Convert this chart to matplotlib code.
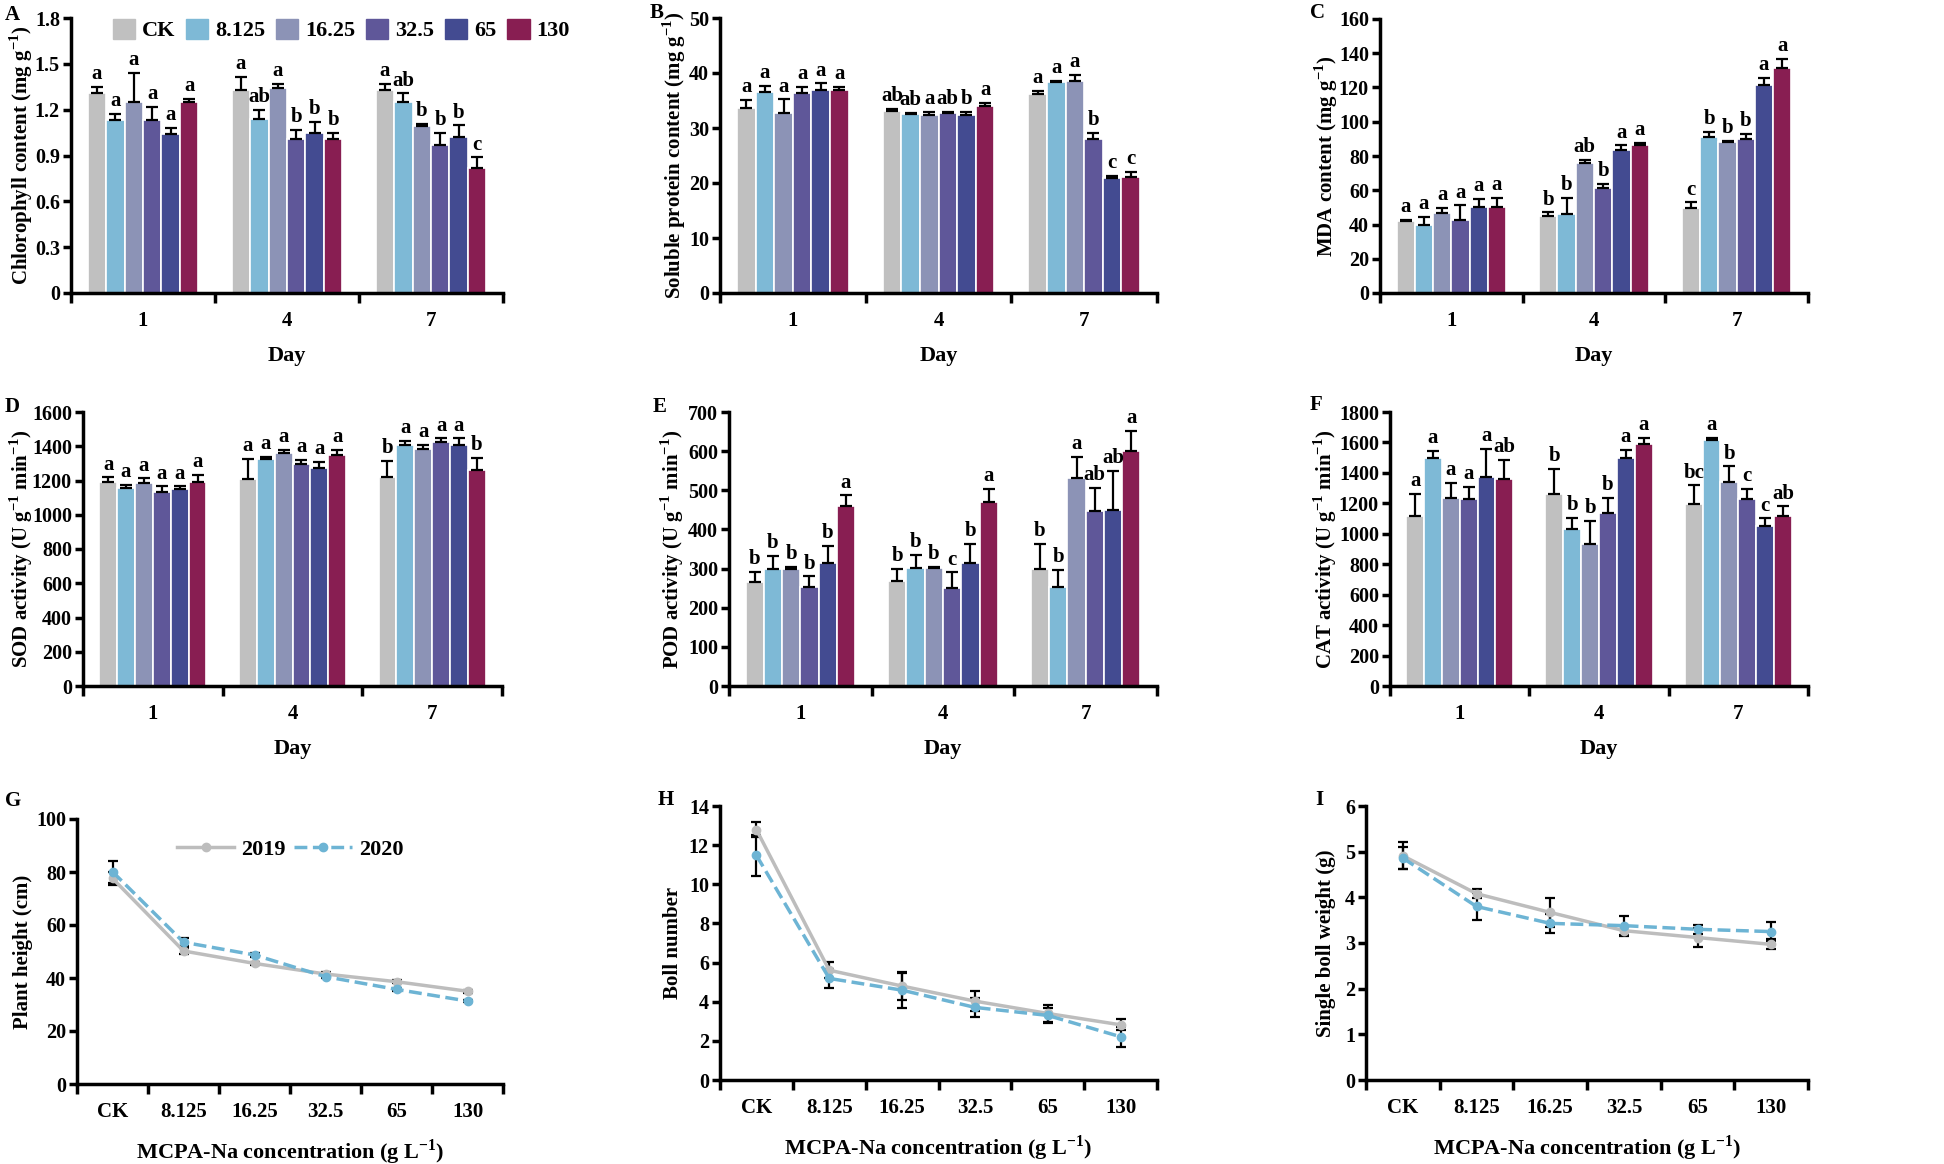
import numpy as np
import matplotlib.pyplot as plt
from matplotlib.patches import Patch

plt.rcParams["font.family"] = ["Liberation Serif", "DejaVu Serif"]
plt.rcParams["font.weight"] = "bold"
plt.rcParams["mathtext.fontset"] = "custom"
plt.rcParams["mathtext.rm"] = "Liberation Serif:bold"

DAYS = ["1", "4", "7"]
TREATMENTS = ["CK", "8.125", "16.25", "32.5", "65", "130"]
COLORS = ["#C0C0C0", "#7EB9D6", "#8C93B6", "#5F5799", "#434B91", "#881E52"]

# rows = day 1, 4, 7 ; columns = CK ... 130
chl_mean = [[1.31, 1.13, 1.25, 1.13, 1.04, 1.25],
            [1.33, 1.14, 1.34, 1.01, 1.05, 1.01],
            [1.33, 1.25, 1.09, 0.97, 1.02, 0.82]]
chl_err = [[0.04, 0.04, 0.19, 0.09, 0.04, 0.02],
           [0.085, 0.057, 0.027, 0.057, 0.072, 0.04],
           [0.037, 0.057, 0.017, 0.08, 0.077, 0.068]]
chl_letters = [["a", "a", "a", "a", "a", "a"],
               ["a", "ab", "a", "b", "b", "b"],
               ["a", "ab", "b", "b", "b", "c"]]

prot_mean = [[33.7, 36.5, 32.8, 36.4, 36.9, 36.9],
             [33.1, 32.6, 32.3, 32.7, 32.4, 34.0],
             [36.1, 38.3, 38.6, 28.0, 21.0, 21.1]]
prot_err = [[1.4, 1.2, 2.4, 1.1, 1.2, 0.6],
            [0.4, 0.15, 0.7, 0.25, 0.5, 0.6],
            [0.7, 0.3, 1.1, 1.1, 0.3, 0.9]]
prot_letters = [["a", "a", "a", "a", "a", "a"],
                ["ab", "ab", "a", "ab", "b", "a"],
                ["a", "a", "a", "b", "c", "c"]]

mda_mean = [[41.8, 39.6, 47.0, 42.7, 50.0, 50.5],
            [45.1, 46.0, 76.1, 61.5, 83.3, 86.2],
            [49.6, 91.3, 88.2, 90.0, 121.2, 131.1]]
mda_err = [[0.8, 4.9, 2.5, 8.4, 4.9, 4.9],
           [2.0, 9.4, 1.6, 2.1, 2.9, 1.6],
           [3.3, 2.7, 0.6, 3.1, 4.5, 5.5]]
mda_letters = [["a", "a", "a", "a", "a", "a"],
               ["b", "b", "ab", "b", "a", "a"],
               ["c", "b", "b", "b", "a", "a"]]

sod_mean = [[1193, 1154, 1183, 1132, 1148, 1191],
            [1210, 1323, 1358, 1294, 1271, 1349],
            [1220, 1405, 1386, 1423, 1405, 1259]]
sod_err = [[25, 20, 29, 33, 17, 41],
           [117, 16, 20, 27, 39, 31],
           [94, 27, 21, 23, 41, 74]]
sod_letters = [["a", "a", "a", "a", "a", "a"],
               ["a", "a", "a", "a", "a", "a"],
               ["b", "a", "a", "a", "a", "b"]]

pod_mean = [[265, 299, 300, 252, 315, 461],
            [268, 302, 301, 251, 315, 469],
            [300, 253, 532, 448, 449, 601]]
pod_err = [[27, 34, 4, 28, 43, 26],
           [32, 33, 3, 39, 48, 35],
           [63, 44, 54, 58, 101, 50]]
pod_letters = [["b", "b", "b", "b", "b", "a"],
               ["b", "b", "b", "c", "b", "a"],
               ["b", "b", "a", "ab", "ab", "a"]]

cat_mean = [[1114, 1495, 1232, 1226, 1370, 1362],
            [1263, 1033, 932, 1138, 1497, 1592],
            [1195, 1618, 1337, 1226, 1052, 1120]]
cat_err = [[147, 48, 101, 83, 187, 125],
           [162, 72, 153, 96, 53, 39],
           [123, 11, 106, 68, 49, 60]]
cat_letters = [["a", "a", "a", "a", "a", "ab"],
               ["b", "b", "b", "b", "a", "a"],
               ["bc", "a", "b", "c", "c", "ab"]]

YEARS = ["2019", "2020"]
height_2019 = [77.6, 50.2, 45.5, 41.5, 38.6, 35.0]
height_2020 = [80.1, 53.5, 48.7, 40.5, 35.7, 31.3]
height_err_2019 = [2.5, 1.2, 0.6, 0.6, 0.5, 0.5]
height_err_2020 = [4.2, 1.5, 0.6, 0.6, 0.5, 0.5]

boll_2019 = [12.79, 5.61, 4.80, 4.03, 3.40, 2.82]
boll_2020 = [11.48, 5.19, 4.59, 3.71, 3.30, 2.21]
boll_err_2019 = [0.37, 0.40, 0.70, 0.50, 0.45, 0.28]
boll_err_2020 = [1.05, 0.50, 0.90, 0.50, 0.40, 0.50]

weight_2019 = [4.91, 4.08, 3.67, 3.27, 3.12, 2.97]
weight_2020 = [4.86, 3.80, 3.43, 3.38, 3.30, 3.25]
weight_err_2019 = [0.30, 0.10, 0.31, 0.11, 0.20, 0.11]
weight_err_2020 = [0.25, 0.30, 0.21, 0.21, 0.10, 0.20]

FS = 14.5
W, H = 1944, 1164


def add_axes_px(fig, x0, y0, x1, y1):
    ax = fig.add_axes([x0 / W, 1 - y1 / H, (x1 - x0) / W, (y1 - y0) / H])
    ax._px = (x0, x1)
    return ax


def style_axis(ax, ncat, ymax, step, ylabel, xlabel, xtick_labels, label_x):
    for s in ["top", "right"]:
        ax.spines[s].set_visible(False)
    for s in ["left", "bottom"]:
        ax.spines[s].set_linewidth(2.5)
    ax.set_xlim(-0.5, ncat - 0.5)
    ax.set_ylim(0, ymax)
    yt = np.round(np.arange(0, ymax + step / 2, step), 3)
    ax.set_yticks(yt)
    ax.set_yticklabels(["%g" % v for v in yt], fontsize=FS, fontweight="bold")
    ax.set_xticks(np.arange(ncat + 1) - 0.5)
    ax.set_xticklabels([])
    ax.set_xticks(np.arange(ncat), minor=True)
    ax.set_xticklabels(xtick_labels, minor=True, fontsize=15, fontweight="bold")
    ax.tick_params(axis="x", which="major", direction="out", length=7, width=2.5)
    ax.tick_params(axis="x", which="minor", length=0, pad=13)
    ax.tick_params(axis="y", direction="out", length=6, width=2.5, pad=2)
    ax.set_ylabel(ylabel, fontsize=15, fontweight="bold", va="center")
    x0, x1 = ax._px
    ax.yaxis.set_label_coords((label_x - x0) / (x1 - x0), 0.5)
    ax.set_xlabel(xlabel, fontsize=16, fontweight="bold", labelpad=11)


def draw_bars(ax, mean, err, letters, ymax, step, ylabel, label_x):
    x = np.arange(len(DAYS))
    bw = 0.128
    for j, name in enumerate(TREATMENTS):
        vals = [mean[d][j] for d in range(len(DAYS))]
        errs = [err[d][j] for d in range(len(DAYS))]
        pos = x + (j - 2.5) * bw
        ax.bar(pos, vals, width=bw, color=COLORS[j], edgecolor="white",
               linewidth=1.2, label=name, zorder=2)
        ax.errorbar(pos, vals, yerr=[np.zeros(len(vals)), errs], fmt="none",
                    ecolor="black", elinewidth=1.6, capsize=4, capthick=1.6, zorder=3)
        for d in range(len(DAYS)):
            ax.annotate(letters[d][j], (pos[d], vals[d] + errs[d]),
                        xytext=(0, 2), textcoords="offset points",
                        ha="center", va="bottom", fontsize=15, fontweight="bold")
    style_axis(ax, len(DAYS), ymax, step, ylabel, "Day", DAYS, label_x)


def draw_lines(ax, y19, y20, e19, e20, ymax, step, ylabel, label_x):
    x = np.arange(len(TREATMENTS))
    ax.errorbar(x, y19, yerr=e19, fmt="none", ecolor="black", elinewidth=1.6,
                capsize=3.5, capthick=1.6, zorder=2)
    ax.errorbar(x, y20, yerr=e20, fmt="none", ecolor="black", elinewidth=1.6,
                capsize=3.5, capthick=1.6, zorder=2)
    ax.plot(x, y19, color="#BDBDBD", lw=2.5, marker="o", ms=6, zorder=3, label=YEARS[0])
    ax.plot(x, y20, color="#6DB4D4", lw=2.5, ls="--", marker="o", ms=6, zorder=4,
            label=YEARS[1])
    style_axis(ax, len(TREATMENTS), ymax, step, ylabel,
               r"MCPA-Na concentration (g L$^{\mathregular{-1}}$)", TREATMENTS, label_x)


fig = plt.figure(figsize=(W / 100, H / 100), dpi=100)

axA = add_axes_px(fig, 71, 18, 503, 293)
draw_bars(axA, chl_mean, chl_err, chl_letters, 1.8, 0.3,
          r"Chlorophyll content (mg g$^{\mathregular{-1}}$)", 21)
axA.legend(handles=[Patch(color=c, label=t) for c, t in zip(COLORS, TREATMENTS)],
           ncol=6, loc="upper left", bbox_to_anchor=(0.05, 1.07), frameon=False,
           handlelength=1.0, handleheight=1.0, handletextpad=0.3, columnspacing=0.5,
           prop={"size": 16, "weight": "bold"})

axB = add_axes_px(fig, 720, 18, 1157, 293)
draw_bars(axB, prot_mean, prot_err, prot_letters, 50, 10,
          r"Soluble protein content (mg g$^{\mathregular{-1}}$)", 674)

axC = add_axes_px(fig, 1380, 19, 1808, 293)
draw_bars(axC, mda_mean, mda_err, mda_letters, 160, 20,
          r"MDA content (mg g$^{\mathregular{-1}}$)", 1326)

axD = add_axes_px(fig, 83, 412, 502, 686)
draw_bars(axD, sod_mean, sod_err, sod_letters, 1600, 200,
          r"SOD activity (U g$^{\mathregular{-1}}$ min$^{\mathregular{-1}}$)", 21)

axE = add_axes_px(fig, 729, 412, 1157, 686)
draw_bars(axE, pod_mean, pod_err, pod_letters, 700, 100,
          r"POD activity (U g$^{\mathregular{-1}}$ min$^{\mathregular{-1}}$)", 672)

axF = add_axes_px(fig, 1390, 412, 1808, 686)
draw_bars(axF, cat_mean, cat_err, cat_letters, 1800, 200,
          r"CAT activity (U g$^{\mathregular{-1}}$ min$^{\mathregular{-1}}$)", 1325)

axG = add_axes_px(fig, 77, 819, 503, 1084)
draw_lines(axG, height_2019, height_2020, height_err_2019, height_err_2020,
           100, 20, "Plant height (cm)", 23)
axG.legend(loc="upper center", bbox_to_anchor=(0.5, 1.0), ncol=2, frameon=False,
           handlelength=2.6, handletextpad=0.3, columnspacing=0.4,
           prop={"size": 16, "weight": "bold"})

axH = add_axes_px(fig, 720, 806, 1157, 1080)
draw_lines(axH, boll_2019, boll_2020, boll_err_2019, boll_err_2020,
           14, 2, "Boll number", 673)

axI = add_axes_px(fig, 1366, 806, 1808, 1080)
draw_lines(axI, weight_2019, weight_2020, weight_err_2019, weight_err_2020,
           6, 1, "Single boll weight (g)", 1326)

panel_letters = [("A", 5, 15), ("B", 650, 13), ("C", 1310, 13),
                 ("D", 5, 407), ("E", 653, 407), ("F", 1310, 405),
                 ("G", 5, 801), ("H", 658, 800), ("I", 1315, 800)]
for lab, px, py in panel_letters:
    fig.text(px / W, 1 - py / H, lab, fontsize=15, fontweight="bold",
             ha="left", va="center")

fig.savefig("out.png", dpi=100)
